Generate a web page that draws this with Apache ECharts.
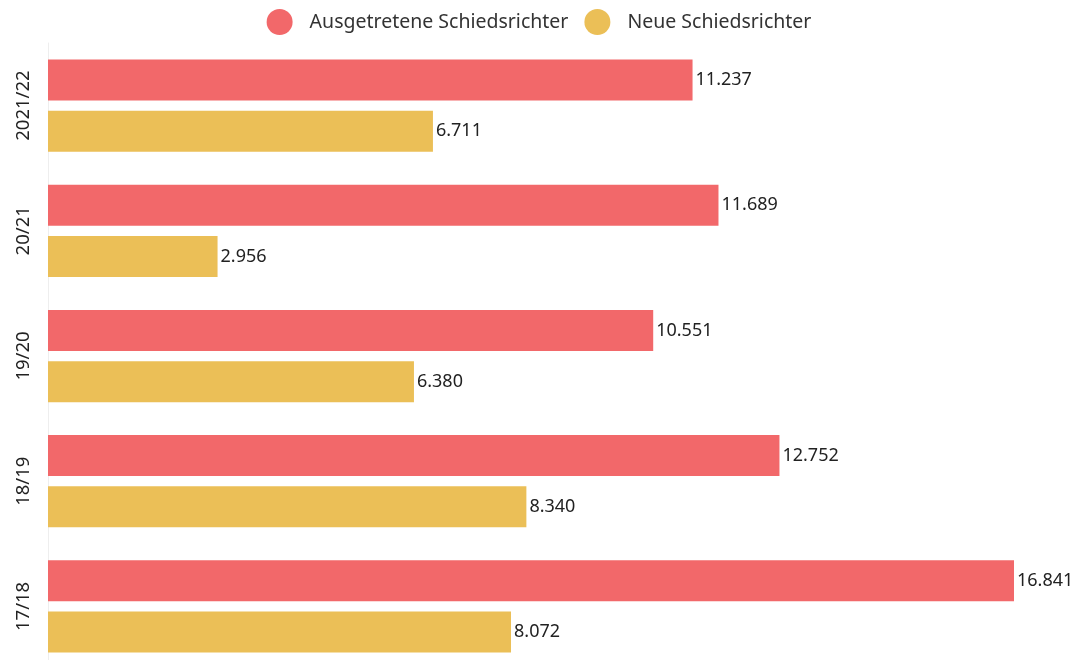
<!DOCTYPE html>
<html>
<head>
<meta charset="utf-8">
<script src="https://cdn.jsdelivr.net/npm/echarts@6/dist/echarts.min.js"></script>
<style>html,body{margin:0;padding:0;background:#fff;overflow:hidden}#c{width:1078px;height:680px}</style>
</head>
<body>
<div id="c"></div>
<script>
const categories = ['17/18', '18/19', '19/20', '20/21', '2021/22'];
const seriesNames = ['Ausgetretene Schiedsrichter', 'Neue Schiedsrichter'];
const ausgetreten = [16841, 12752, 10551, 11689, 11237];
const neu = [8072, 8340, 6380, 2956, 6711];
const colors = ['#F2686A', '#EBBF57'];

function fmt(v) {
  return String(v).replace(/\B(?=(\d{3})+(?!\d))/g, '.');
}

const chart = echarts.init(document.getElementById('c'), null, {renderer: 'canvas'});
const labelStyle = {
  show: true, position: 'right', distance: 3,
  color: '#222', fontSize: 18, fontFamily: 'Noto Sans',
  formatter: p => fmt(p.value)
};
chart.setOption({
  animation: false,
  color: colors,
  legend: {
    top: 4, left: 'center',
    icon: 'circle', itemWidth: 26, itemHeight: 26, itemGap: 16,
    textStyle: {fontSize: 19.5, color: '#333', fontFamily: 'Noto Sans', padding: [0, 0, 0, 12]},
    data: seriesNames
  },
  grid: {left: 48, top: 43, width: 966, height: 626, containLabel: false},
  xAxis: {
    type: 'value', min: 0, max: 16841,
    show: false
  },
  yAxis: {
    type: 'category', data: categories,
    axisLine: {show: true, lineStyle: {color: '#eeeeee', width: 1}},
    axisTick: {show: false},
    splitLine: {show: false},
    axisLabel: {
      rotate: 90, margin: 15, color: '#222', fontSize: 18.5, fontFamily: 'Noto Sans'
    }
  },
  series: [
    {name: seriesNames[0], type: 'bar', data: ausgetreten, barWidth: 41, barGap: '25%', label: labelStyle},
    {name: seriesNames[1], type: 'bar', data: neu, barWidth: 41, barGap: '25%', label: labelStyle}
  ]
});
</script>
</body>
</html>
